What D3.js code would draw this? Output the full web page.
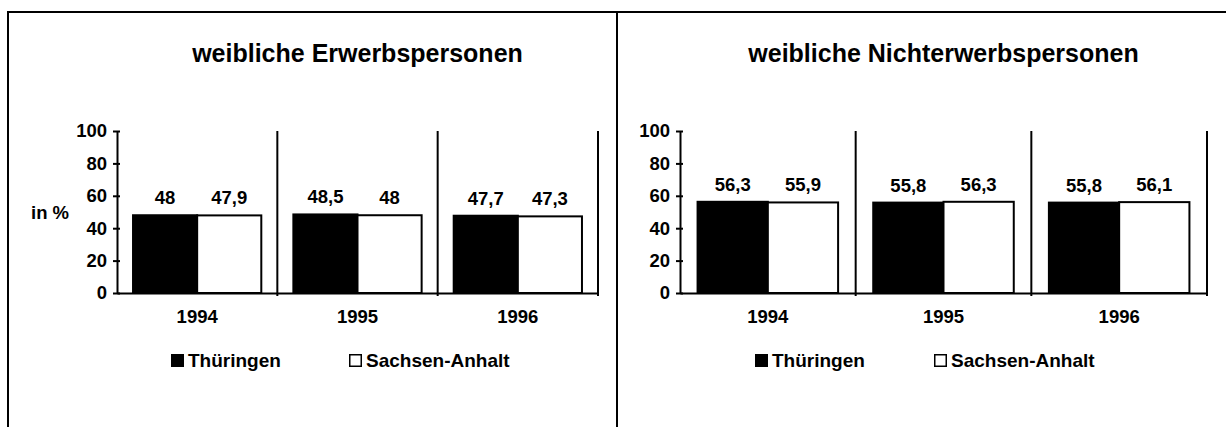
<!DOCTYPE html>
<html>
<head>
<meta charset="utf-8">
<script src="https://cdn.jsdelivr.net/npm/d3@7"></script>
<style>
  body { margin: 0; background: #fff; }
  text { font-family: "Liberation Sans", Arial, sans-serif; font-weight: bold; fill: #000; }
</style>
</head>
<body>
<div id="chart"></div>
<script>
    var w = 1226;
    var h = 427;

    // data
    var years = ['1994', '1995', '1996'];
    var seriesNames = ['Thüringen', 'Sachsen-Anhalt'];
    var erwerbThue = [48, 48.5, 47.7];
    var erwerbSachs = [47.9, 48, 47.3];
    var nichtThue = [56.3, 55.8, 55.8];
    var nichtSachs = [55.9, 56.3, 56.1];
    var yTicks = [0, 20, 40, 60, 80, 100];

    var panels = [
        { title: 'weibliche Erwerbspersonen', a: erwerbThue, b: erwerbSachs,
          left: 117, right: 598, unit: true, legendX: 171, sachsX: 349 },
        { title: 'weibliche Nichterwerbspersonen', a: nichtThue, b: nichtSachs,
          left: 680, right: 1207, unit: false, legendX: 755, sachsX: 934 }
    ];

    var plotTop = 131, plotBottom = 293;
    var fs = 18.5;
    var fsLeg = 19;

    var de = d3.formatLocale({ decimal: ',', thousands: '.', grouping: [3], currency: ['', ' €'] });
    var fmt = de.format('.1~f');
    var fills = ['#000', '#fff'];

    var svg = d3.select('#chart').append('svg')
        .attr('width', w)
        .attr('height', h);

    // outer frame
    svg.append('path')
        .attr('d', 'M8,' + h + 'V12H' + w)
        .attr('fill', 'none')
        .attr('stroke', '#000')
        .attr('stroke-width', 2);
    svg.append('line')
        .attr('x1', 617).attr('x2', 617)
        .attr('y1', 12).attr('y2', h)
        .attr('stroke', '#000')
        .attr('stroke-width', 2);

    var y = d3.scaleLinear()
        .domain([0, 100])
        .range([plotBottom, plotTop]);

    panels.forEach(function(p) {
        var g = svg.append('g');

        var x = d3.scaleBand()
            .domain(years)
            .range([p.left, p.right])
            .padding(0);
        var xs = d3.scaleBand()
            .domain(seriesNames)
            .range([0, x.bandwidth()])
            .paddingInner(0)
            .paddingOuter(0.25);

        // title
        g.append('text')
            .attr('x', (p.left + p.right) / 2)
            .attr('y', 62)
            .attr('text-anchor', 'middle')
            .style('font-size', '25px')
            .text(p.title);

        // category separators
        g.selectAll('.sep')
            .data(years)
            .enter().append('line')
            .attr('class', 'sep')
            .attr('x1', function(d) { return x(d) + x.bandwidth(); })
            .attr('x2', function(d) { return x(d) + x.bandwidth(); })
            .attr('y1', y(100))
            .attr('y2', y(0) + 3)
            .attr('stroke', '#000')
            .attr('stroke-width', 2);

        // bars
        var rows = years.map(function(yr, i) {
            return { year: yr, vals: [p.a[i], p.b[i]] };
        });
        var grp = g.selectAll('.grp')
            .data(rows)
            .enter().append('g')
            .attr('class', 'grp')
            .attr('transform', function(d) { return 'translate(' + [x(d.year), 0] + ')'; });

        var bar = grp.selectAll('.bar')
            .data(function(d) {
                return d.vals.map(function(v, k) { return { name: seriesNames[k], v: v, k: k }; });
            })
            .enter().append('g')
            .attr('class', 'bar');

        bar.append('rect')
            .attr('x', function(d) { return xs(d.name); })
            .attr('width', xs.bandwidth())
            .attr('y', function(d) { return y(d.v); })
            .attr('height', function(d) { return y(0) - y(d.v); })
            .attr('fill', function(d) { return fills[d.k]; })
            .attr('stroke', '#000')
            .attr('stroke-width', 2);

        bar.append('text')
            .attr('x', function(d) { return xs(d.name) + xs.bandwidth() / 2; })
            .attr('y', function(d) { return y(d.v) - 11; })
            .attr('text-anchor', 'middle')
            .style('font-size', fs + 'px')
            .text(function(d) { return fmt(d.v); });

        // y axis
        var yAxis = d3.axisLeft(y)
            .tickValues(yTicks)
            .tickSizeOuter(0)
            .tickSizeInner(4)
            .tickPadding(6);
        var ya = g.append('g')
            .attr('class', 'y axis')
            .attr('transform', 'translate(' + [p.left, 0] + ')')
            .call(yAxis);
        ya.select('.domain').attr('stroke-width', 2);
        ya.selectAll('.tick line').attr('x1', 3).attr('stroke-width', 2);
        ya.selectAll('.tick text')
            .style('font-size', fs + 'px')
            .style('font-family', '"Liberation Sans", Arial, sans-serif');

        // x axis
        var xAxis = d3.axisBottom(x)
            .tickSize(0)
            .tickPadding(17);
        var xa = g.append('g')
            .attr('class', 'x axis')
            .attr('transform', 'translate(' + [0, y(0)] + ')')
            .call(xAxis);
        xa.select('.domain').attr('stroke-width', 2);
        xa.selectAll('.tick text')
            .style('font-size', fs + 'px')
            .style('font-family', '"Liberation Sans", Arial, sans-serif');

        if (p.unit) {
            g.append('text')
                .attr('x', 31)
                .attr('y', 219)
                .style('font-size', fs + 'px')
                .text('in %');
        }

        // legend
        var legX = [p.legendX, p.sachsX];
        var leg = g.selectAll('.leg')
            .data(seriesNames)
            .enter().append('g')
            .attr('class', 'leg')
            .attr('transform', function(d, i) { return 'translate(' + [legX[i], 354] + ')'; });
        leg.append('rect')
            .attr('x', 0.75).attr('y', 0.75)
            .attr('width', 11.5).attr('height', 11.5)
            .attr('fill', function(d, i) { return fills[i]; })
            .attr('stroke', '#000')
            .attr('stroke-width', 1.5);
        leg.append('text')
            .attr('x', 17)
            .attr('y', 13)
            .style('font-size', fsLeg + 'px')
            .text(function(d) { return d; });
    });
</script>
</body>
</html>
